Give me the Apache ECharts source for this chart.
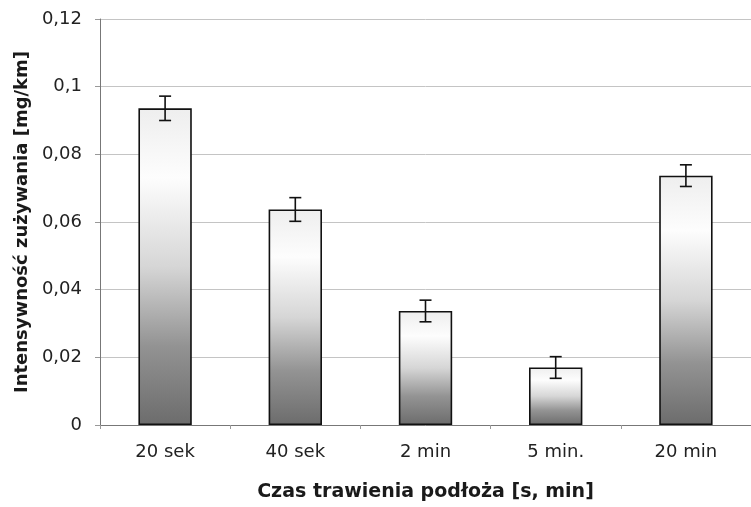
<!DOCTYPE html>
<html><head><meta charset="utf-8">
<script src="https://cdn.jsdelivr.net/npm/echarts@6/dist/echarts.min.js"></script>
<style>html,body{margin:0;padding:0;background:#fff}#c{width:751px;height:507px}</style>
</head><body><div id="c"></div>
<script>
const categories = ['20 sek', '40 sek', '2 min', '5 min.', '20 min'];
const values = [0.0936, 0.0637, 0.0337, 0.0170, 0.0737];
const errors = [0.0036, 0.0035, 0.0032, 0.0032, 0.0032];
const yTicks = [0, 0.02, 0.04, 0.06, 0.08, 0.1, 0.12];

const chart = echarts.init(document.getElementById('c'));
const fnt = '"DejaVu Sans", sans-serif';
chart.setOption({
  animation: false,
  backgroundColor: '#fff',
  grid: {left: 100, right: -4, top: 19, bottom: 82},
  xAxis: {
    type: 'category', data: categories,
    axisLine: {lineStyle: {color: '#777', width: 1}},
    axisTick: {show: true, length: 4, lineStyle: {color: '#999'}},
    axisLabel: {color: '#222', fontSize: 18, fontFamily: fnt, margin: 18},
    name: 'Czas trawienia podłoża [s, min]', nameLocation: 'middle', nameGap: 58,
    nameTextStyle: {color: '#1a1a1a', fontSize: 19, fontWeight: 'bold', fontFamily: fnt}
  },
  yAxis: {
    type: 'value', min: 0, max: 0.12, interval: 0.02,
    axisLine: {show: true, lineStyle: {color: '#777'}},
    axisTick: {show: true, length: 5, lineStyle: {color: '#999'}},
    splitLine: {lineStyle: {color: '#c4c4c4'}},
    axisLabel: {color: '#222', fontSize: 18, fontFamily: fnt, margin: 18,
      formatter: v => { const t = yTicks.find(x => Math.abs(x - v) < 1e-9); return String(+((t ?? v).toFixed(2))).replace('.', ','); }},
    name: 'Intensywność zużywania [mg/km]', nameLocation: 'middle', nameGap: 67,
    nameTextStyle: {color: '#1a1a1a', fontSize: 18, fontWeight: 'bold', fontFamily: fnt}
  },
  series: [
    {
      type: 'bar', data: values, barWidth: '41%',
      itemStyle: {
        borderColor: '#111', borderWidth: 1.6,
        color: new echarts.graphic.LinearGradient(0, 0, 0, 1, [
          {offset: 0, color: '#eeeeee'},
          {offset: 0.22, color: '#fdfdfd'},
          {offset: 0.5, color: '#d6d6d6'},
          {offset: 0.75, color: '#939393'},
          {offset: 1, color: '#6c6c6c'}
        ])
      }
    },
    {
      type: 'custom', z: 5,
      data: values.map((v, i) => [i, v - errors[i], v + errors[i]]),
      renderItem: (params, api) => {
        const lo = api.coord([api.value(0), api.value(1)]);
        const hi = api.coord([api.value(0), api.value(2)]);
        const w = 6;
        const st = {stroke: '#111', lineWidth: 1.6};
        return {type: 'group', children: [
          {type: 'line', shape: {x1: lo[0], y1: lo[1], x2: hi[0], y2: hi[1]}, style: st},
          {type: 'line', shape: {x1: lo[0] - w, y1: lo[1], x2: lo[0] + w, y2: lo[1]}, style: st},
          {type: 'line', shape: {x1: hi[0] - w, y1: hi[1], x2: hi[0] + w, y2: hi[1]}, style: st}
        ]};
      }
    }
  ]
});
</script></body></html>
